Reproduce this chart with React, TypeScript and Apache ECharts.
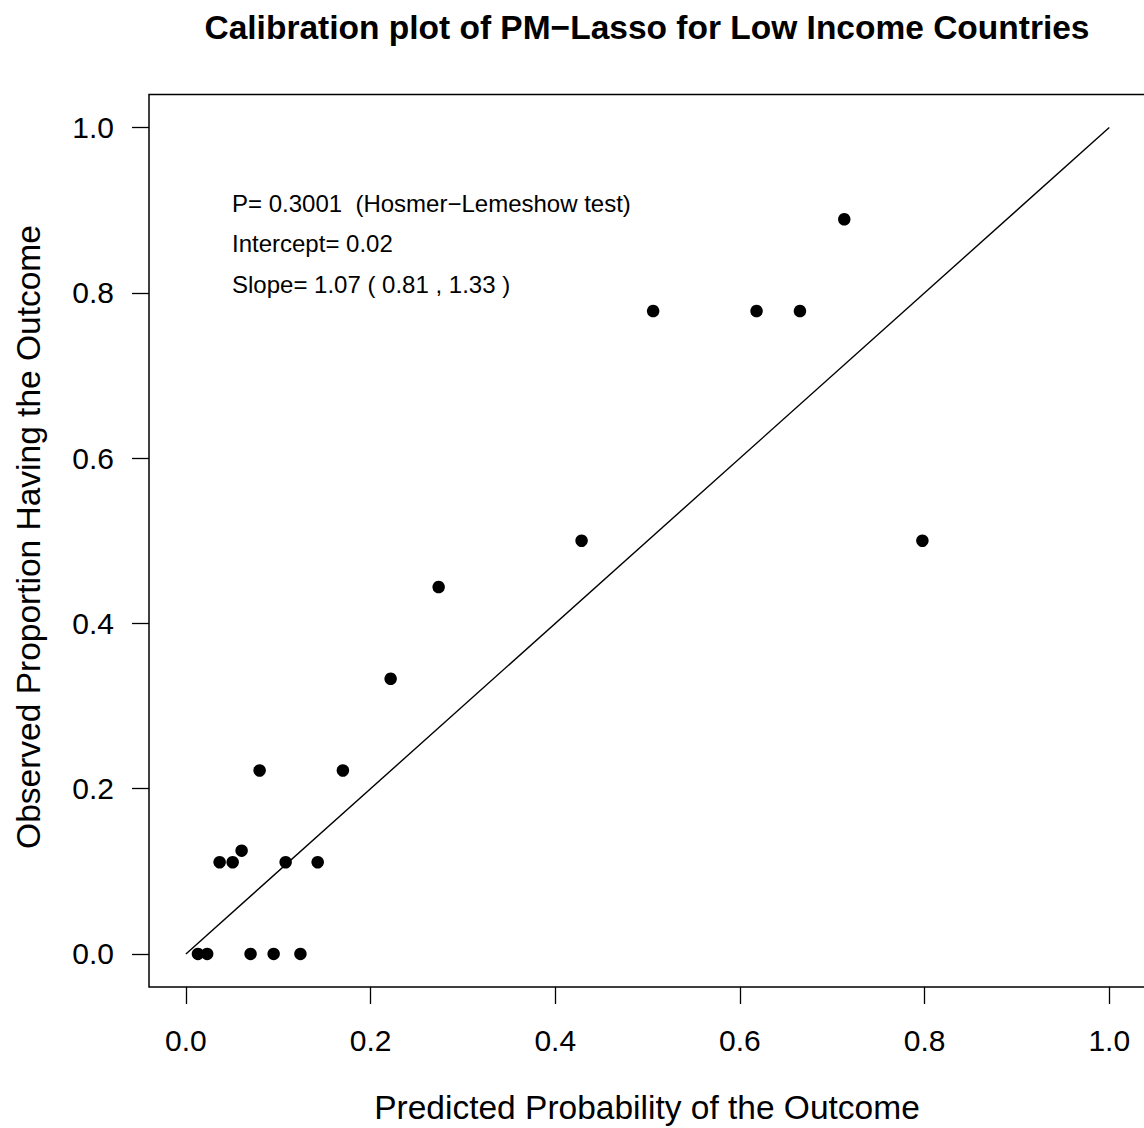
import React, { useEffect, useRef } from "react";
import * as echarts from "echarts";

// Grouped calibration points: mean predicted probability vs observed proportion
const predicted = [
  0.013, 0.023, 0.0365, 0.0506, 0.0603, 0.070, 0.0798, 0.095, 0.108, 0.124,
  0.1427, 0.170, 0.2217, 0.2737, 0.4285, 0.506, 0.618, 0.665, 0.713, 0.7976,
];
const observed = [
  0, 0, 0.111, 0.111, 0.125, 0, 0.222, 0, 0.111, 0,
  0.111, 0.222, 0.333, 0.444, 0.5, 0.778, 0.778, 0.778, 0.889, 0.5,
];
const idealLine = [
  [0, 0],
  [1, 1],
];
const tickValues = [0, 0.2, 0.4, 0.6, 0.8, 1.0];
const statLines = [
  "P= 0.3001  (Hosmer\u2212Lemeshow test)",
  "Intercept= 0.02",
  "Slope= 1.07 ( 0.81 , 1.33 )",
];
const titleText = "Calibration plot of PM\u2212Lasso for Low Income Countries";
const xTitle = "Predicted Probability of the Outcome";
const yTitle = "Observed Proportion Having the Outcome";

const FONT = "'Liberation Sans', Arial, Helvetica, sans-serif";

export default function App() {
  const ref = useRef<HTMLDivElement>(null);

  useEffect(() => {
    if (!ref.current) return;
    const chart = echarts.init(ref.current, null, { renderer: "svg" });

    // Plot box with 4% padding around the 0..1 data range; its right edge
    // runs just past the visible area
    const boxLeft = 149;
    const boxTop = 94.5;
    const boxRight = 1146.2;
    const boxBottom = 987;

    const axisCommon = {
      type: "value" as const,
      min: -0.04,
      max: 1.04,
      splitLine: { show: false },
      axisLine: { show: false, onZero: false },
      axisTick: {
        show: true,
        inside: false,
        length: 17,
        customValues: tickValues,
        lineStyle: { color: "#000", width: 1.3 },
      },
    };

    const labelCommon = {
      fontSize: 30,
      color: "#000",
      fontFamily: FONT,
      customValues: tickValues,
      formatter: (v: number) => v.toFixed(1),
    };

    chart.setOption({
      animation: false,
      backgroundColor: "#fff",
      grid: {
        show: false,
        left: boxLeft,
        top: boxTop,
        width: boxRight - boxLeft,
        height: boxBottom - boxTop,
        containLabel: false,
        outerBoundsMode: "none",
      },
      xAxis: {
        ...axisCommon,
        position: "bottom",
        axisLabel: { ...labelCommon, margin: 38 },
      },
      yAxis: {
        ...axisCommon,
        position: "left",
        axisLabel: { ...labelCommon, margin: 35 },
      },
      series: [
        {
          type: "line",
          data: idealLine,
          symbol: "none",
          lineStyle: { color: "#000", width: 1.4 },
          silent: true,
          z: 2,
        },
        {
          type: "scatter",
          data: predicted.map((p, i) => [p, observed[i]]),
          symbol: "circle",
          symbolSize: 12.5,
          itemStyle: { color: "#000", opacity: 1 },
          z: 3,
        },
      ],
      graphic: [
        {
          // plot frame: top, left and bottom edges
          type: "polyline",
          shape: {
            points: [
              [1200, boxTop],
              [boxLeft, boxTop],
              [boxLeft, boxBottom],
              [1200, boxBottom],
            ],
          },
          style: { fill: "none", stroke: "#000", lineWidth: 1.5 },
          silent: true,
          z: 10,
        },
        {
          type: "text",
          x: 647,
          y: 27,
          style: {
            text: titleText,
            fontSize: 33.5,
            fontWeight: "bold",
            fontFamily: FONT,
            fill: "#000",
            align: "center",
            verticalAlign: "middle",
          },
        },
        {
          type: "text",
          x: 647,
          y: 1107,
          style: {
            text: xTitle,
            fontSize: 33.5,
            fontFamily: FONT,
            fill: "#000",
            align: "center",
            verticalAlign: "middle",
          },
        },
        {
          type: "text",
          x: 28,
          y: 537,
          rotation: Math.PI / 2,
          style: {
            text: yTitle,
            fontSize: 33.5,
            fontFamily: FONT,
            fill: "#000",
            align: "center",
            verticalAlign: "middle",
          },
        },
        ...statLines.map((t, i) => ({
          type: "text",
          x: 232,
          y: 203 + i * 40.5,
          style: {
            text: t,
            fontSize: 24,
            fontFamily: FONT,
            fill: "#000",
            align: "left",
            verticalAlign: "middle",
          },
        })),
      ],
    });

    return () => chart.dispose();
  }, []);

  return (
    <div
      style={{
        position: "absolute",
        left: 0,
        top: 0,
        width: 1144,
        height: 1128,
        overflow: "hidden",
        background: "#fff",
      }}
    >
      <div ref={ref} style={{ width: 1200, height: 1128 }} />
    </div>
  );
}
